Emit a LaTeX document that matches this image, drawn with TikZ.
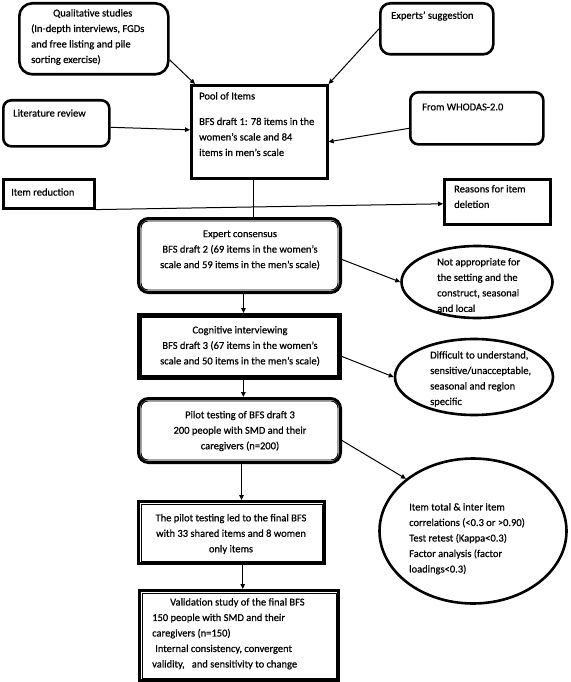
\documentclass[tikz,border=0pt]{standalone}
\usepackage{fontspec}
\setmainfont{Carlito}[FakeBold=0.6]
\usetikzlibrary{shapes.geometric,arrows.meta,calc}
\begin{document}
\begin{tikzpicture}[x=1pt,y=-1pt,
  txt/.style={font=\fontsize{10.5}{15.5}\selectfont, inner sep=0pt, align=left},
  ctxt/.style={txt, align=center},
  box/.style={draw, line width=2.6pt, inner sep=0pt, anchor=north west},
  rbox/.style={box, rounded corners=10pt},
  obox/.style={draw, line width=3pt, inner sep=0pt, anchor=north west},
  robox/.style={obox, rounded corners=10pt},
  inner/.style={line width=0.9pt},
  ell/.style={draw, ellipse, line width=2.6pt, inner sep=0pt},
  arr/.style={line width=1pt, -{Triangle[length=5pt,width=4.5pt]}},
  ln/.style={line width=1pt}
]
\useasboundingbox (0,0) rectangle (570,682);

% top boxes
\node[rbox, rounded corners=13pt, minimum width=149pt, minimum height=71pt] (qual) at (18,2) {};
\node[txt, anchor=west] (qualt) at (31,37) {\hspace*{22pt}Qualitative studies\\(In-depth interviews, FGDs\\and free listing and pile\\sorting exercise)};

\node[rbox, minimum width=113pt, minimum height=51pt] (exp) at (379,2) {};
\node[txt, anchor=west] (expt) at (391,16) {Experts' suggestion};

\node[rbox, rounded corners=8pt, minimum width=106pt, minimum height=46pt] (lit) at (2,99) {};
\node[txt, anchor=west] (litt) at (13,113) {Literature review};

\node[rbox, rounded corners=8pt, minimum width=133pt, minimum height=52pt] (who) at (409,91) {};
\node[txt, anchor=west] (whot) at (422,107) {From WHODAS-2.0};

\node[box, minimum width=136pt, minimum height=93pt] (pool) at (190,84) {};
\node[txt, anchor=north west] (poolt) at (199,92) {Pool of Items\\[10pt]BFS draft 1: 78 items in the\\women's scale and 84\\items in men's scale};

% item reduction row
\node[box, minimum width=91pt, minimum height=29pt] (ired) at (2,178) {};
\node[txt, anchor=west] (iredt) at (11,192) {Item reduction};

\node[box, minimum width=106pt, minimum height=45pt] (reas) at (443,178) {};
\node[txt, anchor=north west] (reast) at (454,185) {Reasons for item\\deletion};

% expert consensus (rounded double)
\node[robox, minimum width=202pt, minimum height=74pt] (econ) at (137,217) {};
\draw[inner, rounded corners=7pt] ($(econ.north west)+(4,4)$) rectangle ($(econ.south east)+(-4,-4)$);
\node[ctxt] (econt) at (240,250) {Expert consensus\\BFS draft 2 (69 items in the women's\\scale and 59 items in the men's scale)};

% cognitive (sharp double)
\node[obox, line width=3.8pt, minimum width=201pt, minimum height=63pt] (cog) at (137,313) {};
\draw[inner] ($(cog.north west)+(4.5,4.5)$) rectangle ($(cog.south east)+(-4.5,-4.5)$);
\node[ctxt] (cogt) at (240,346) {Cognitive interviewing\\BFS draft 3 (67 items in the women's\\scale and 50 items in the men's scale)};

% pilot (rounded double)
\node[robox, minimum width=202pt, minimum height=64pt] (pil) at (137,397) {};
\draw[inner, rounded corners=7pt] ($(pil.north west)+(4,4)$) rectangle ($(pil.south east)+(-4,-4)$);
\node[ctxt] (pilt) at (240,431) {Pilot testing of BFS draft 3\\200 people with SMD and their\\caregivers (n=200)};

% final (sharp double)
\node[obox, line width=3.4pt, minimum width=186pt, minimum height=62pt] (fin) at (137,500) {};
\draw[inner] ($(fin.north west)+(4,4)$) rectangle ($(fin.south east)+(-4,-4)$);
\node[ctxt] (fint) at (231,534) {The pilot testing led to the final BFS\\with 33 shared items and 8 women\\only items};

% validation (sharp double)
\node[obox, line width=3.4pt, minimum width=199pt, minimum height=90pt] (val) at (138,589) {};
\draw[inner] ($(val.north west)+(4,4)$) rectangle ($(val.south east)+(-4,-4)$);
\node[txt, anchor=north west] (valt) at (152,598) {\hspace*{18pt}Validation study of the final BFS\\150 people with SMD and their\\caregivers (n=150)\\\hspace*{3pt}Internal consistency, convergent\\validity,\ \ \ and sensitivity to change};

% ellipses
\node[ell, minimum width=151pt, minimum height=72pt] (e1) at (477,282) {};
\node[txt, anchor=north west] (e1t) at (437,258) {Not appropriate for\\the setting and the\\construct, seasonal\\and local};

\node[ell, minimum width=158pt, minimum height=76pt] (e2) at (474,377) {};
\node[txt, anchor=north west] (e2t) at (430,351) {Difficult to understand,\\sensitive/unacceptable,\\seasonal and region\\specific};

\node[ell, minimum width=187pt, minimum height=145pt] (e3) at (473,531) {};
\node[txt, anchor=north west] (e3t) at (409,503) {Item total \& inter item\\correlations (<0.3 or >0.90)\\Test retest (Kappa<0.3)\\Factor analysis (factor\\loadings<0.3)};

% connectors
\draw[arr] ([yshift=-21pt]qual.east) -- ([xshift=5pt]pool.north west);
\draw[arr] (exp.west) -- (pool.north east);
\draw[arr] ([yshift=-4pt]lit.east) -- ([yshift=2pt]pool.west);
\draw[arr] ([yshift=-10pt]who.west) -- ([yshift=-10pt]pool.east);
\draw[arr] (ired.south east) -- ([yshift=-2pt]reas.west);
\draw[ln] ([xshift=-6pt]pool.south) -- ([xshift=-6pt]pool.south |- econ.north);
\draw[arr] ([xshift=4pt]econ.south) -- ([xshift=4pt]econ.south |- cog.north);
\draw[arr] ([yshift=-4pt]econ.east) -- (e1.west);
\draw[arr] ([xshift=4pt]cog.south) -- ([xshift=4pt]cog.south |- pil.north);
\draw[arr] ([yshift=-10pt]cog.east) -- (e2.west);
\draw[arr] ([xshift=2pt]pil.south) -- ([xshift=2pt]pil.south |- fin.north);
\draw[arr] ([yshift=-10pt]pil.east) -- (e3.north west);
\draw[arr] ([xshift=11pt]fin.south) -- ([xshift=11pt]fin.south |- val.north);
\end{tikzpicture}
\end{document}
